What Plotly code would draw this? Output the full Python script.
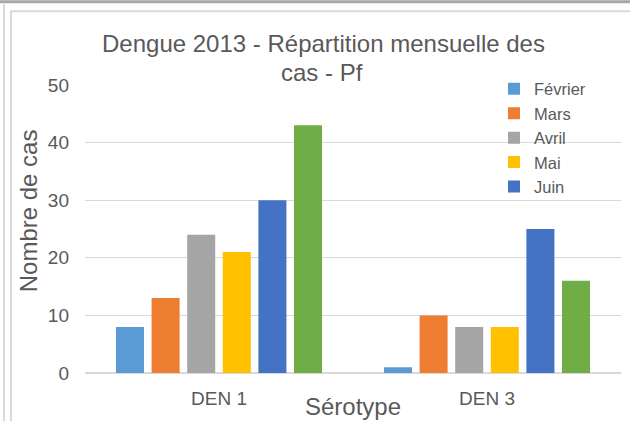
import plotly.graph_objects as go

categories = ["DEN 1", "DEN 3"]
series_names = ["Février", "Mars", "Avril", "Mai", "Juin", "Juillet"]
fevrier = [8, 1]
mars = [13, 10]
avril = [24, 8]
mai = [21, 8]
juin = [30, 25]
juillet = [43, 16]
values = [fevrier, mars, avril, mai, juin, juillet]
colors = ["#5B9BD5", "#ED7D31", "#A5A5A5", "#FFC000", "#4472C4", "#70AD47"]
show_in_legend = [True, True, True, True, True, False]
y_ticks = [0, 10, 20, 30, 40, 50]
title_lines = ["Dengue 2013 - Répartition mensuelle des", "cas - Pf"]
x_title = "Sérotype"
y_title = "Nombre de cas"

FONT = "Liberation Sans, Arial, sans-serif"
TXT = "#595959"

L, R, T, B = 85, 9, 84.5, 48
W, H = 630, 421
PW, PH = W - L - R, H - T - B


def px_x(p):
    return (p - L) / PW


def px_y(p):
    return (H - B - p) / PH


fig = go.Figure()
for name, vals, col, sl in zip(series_names, values, colors, show_in_legend):
    fig.add_trace(go.Bar(x=categories, y=vals, name=name, marker_color=col,
                         marker_line_width=0, showlegend=sl))

fig.update_layout(
    width=W, height=H,
    margin=dict(l=L, r=R, t=T, b=B, autoexpand=False),
    paper_bgcolor="white", plot_bgcolor="white",
    barmode="group", bargap=0.203, bargroupgap=0.213,
    font=dict(family=FONT, color=TXT, size=16),
    legend=dict(x=px_x(494), y=px_y(71), xanchor="left", yanchor="top",
                bgcolor="rgba(0,0,0,0)", font=dict(size=16.5, color=TXT),
                itemwidth=30, tracegroupgap=0),
    xaxis=dict(showgrid=False, showline=False, ticks="",
               tickfont=dict(size=19, color=TXT), ticklabelstandoff=12),
    yaxis=dict(range=[0, 50], tickvals=y_ticks, showgrid=True, gridcolor="#D9D9D9",
               gridwidth=1, zeroline=True, zerolinecolor="#D9D9D9", zerolinewidth=2,
               showline=False, ticks="", tickfont=dict(size=19, color=TXT),
               ticklabelstandoff=15),
)

# titles as annotations (exact placement)
fig.add_annotation(text=title_lines[0], xref="paper", yref="paper",
                   x=px_x(323.5), y=px_y(43), xanchor="center", yanchor="middle",
                   showarrow=False, font=dict(size=24, color=TXT, family=FONT))
fig.add_annotation(text=title_lines[1], xref="paper", yref="paper",
                   x=px_x(322), y=px_y(71.5), xanchor="center", yanchor="middle",
                   showarrow=False, font=dict(size=24, color=TXT, family=FONT))
fig.add_annotation(text=x_title, xref="paper", yref="paper",
                   x=px_x(352.5), y=px_y(406.5), xanchor="center", yanchor="middle",
                   showarrow=False, font=dict(size=24, color=TXT, family=FONT))
fig.add_annotation(text=y_title, xref="paper", yref="paper", textangle=-90,
                   x=px_x(28), y=px_y(211), xanchor="center", yanchor="middle",
                   showarrow=False, font=dict(size=24, color=TXT, family=FONT))

# outer frame lines
fig.add_shape(type="line", xref="paper", yref="paper",
              x0=px_x(0), x1=px_x(630), y0=px_y(1), y1=px_y(1),
              line=dict(color="#A6A6A6", width=3))
fig.add_shape(type="line", xref="paper", yref="paper",
              x0=px_x(10), x1=px_x(630), y0=px_y(10.5), y1=px_y(10.5),
              line=dict(color="#D9D9D9", width=2))
fig.add_shape(type="line", xref="paper", yref="paper",
              x0=px_x(4), x1=px_x(4), y0=px_y(3), y1=px_y(421),
              line=dict(color="#D9D9D9", width=2))
fig.add_shape(type="line", xref="paper", yref="paper",
              x0=px_x(11), x1=px_x(11), y0=px_y(10), y1=px_y(421),
              line=dict(color="#D9D9D9", width=2))

fig.write_html("out.html", config={"displayModeBar": False},
               post_script="document.body.style.margin='0';")
